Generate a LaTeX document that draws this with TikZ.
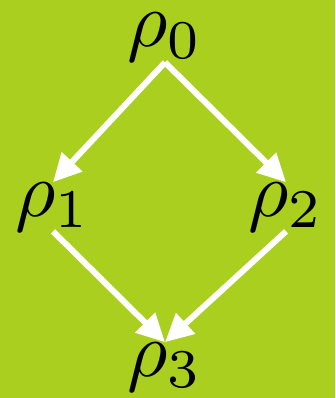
\documentclass[tikz,border=0pt]{standalone}
\usepackage{graphicx}
\usetikzlibrary{arrows.meta}
\definecolor{bg}{RGB}{170,207,30}
\newcommand{\bigmath}[1]{\scalebox{7.8}{$#1$}}
\tikzset{
  lbl/.style={inner sep=0pt, anchor=base, text=black},
  arr/.style={draw=white, line width=6pt, -{Triangle[length=28pt,width=27pt]}}
}
\begin{document}
\begin{tikzpicture}[x=1pt,y=-1pt]
  \fill[bg] (0,0) rectangle (335,398);
  \useasboundingbox (0,0) rectangle (335,398);
  \node[lbl] (r0) at (165,47) {\bigmath{\rho_0}};
  \node[lbl] (r1) at (53,216) {\bigmath{\rho_1}};
  \node[lbl] (r2) at (286,216) {\bigmath{\rho_2}};
  \node[lbl] (r3) at (165,376) {\bigmath{\rho_3}};
  \draw[arr] (r0.south) -- (r1.north);
  \draw[arr] (r0.south) -- (r2.north);
  \draw[arr] (r1.south) -- (r3.north);
  \draw[arr] (r2.south) -- (r3.north);
\end{tikzpicture}
\end{document}
